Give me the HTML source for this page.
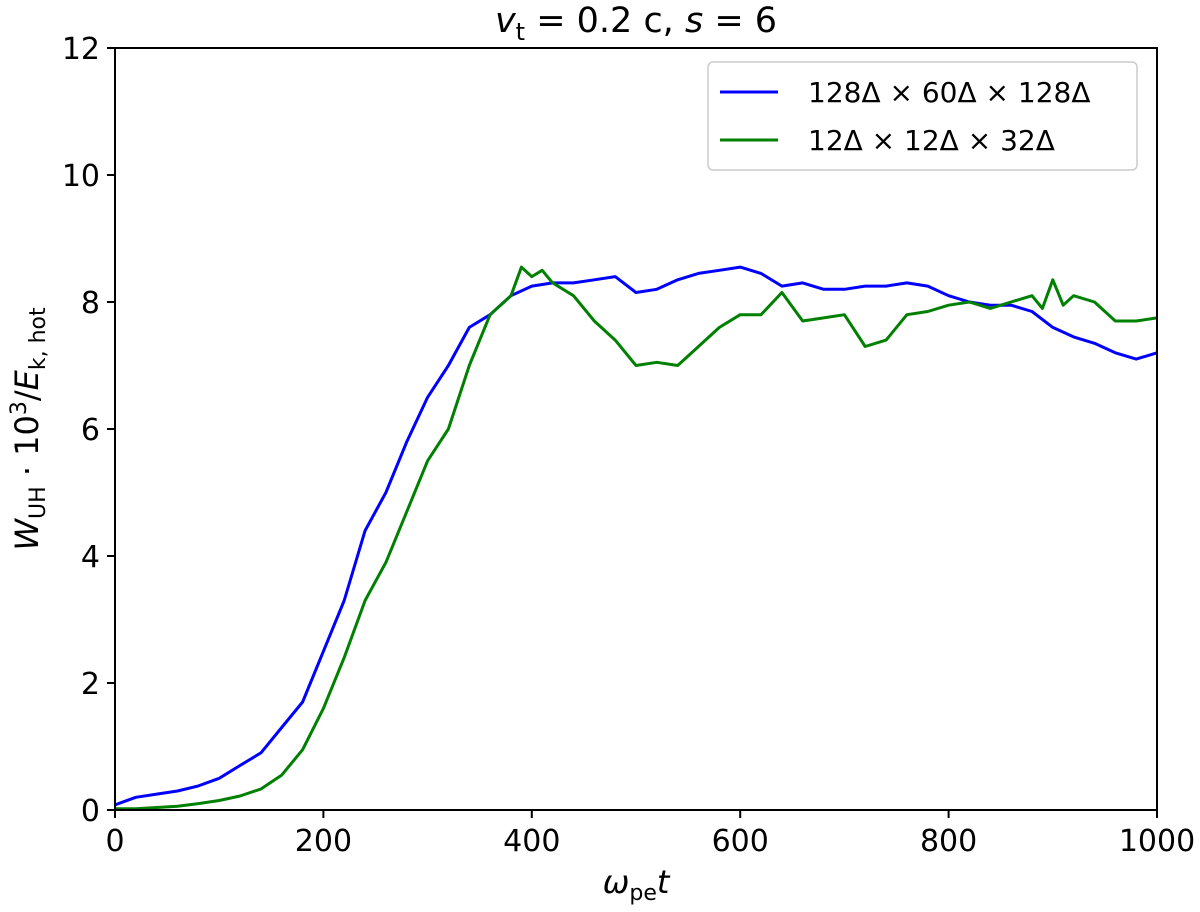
<!DOCTYPE html>
<html><head><meta charset="utf-8"><style>
body{margin:0;background:#fff;}
svg text{font-family:"DejaVu Sans","Liberation Sans",sans-serif;fill:#000;}
</style></head><body>
<svg id="chart" width="1200" height="907" viewBox="0 0 1200 907" xmlns="http://www.w3.org/2000/svg">
<text x="636" y="32" font-size="35" text-anchor="middle"><tspan font-style="italic">v</tspan><tspan font-size="24" dy="8">t</tspan><tspan dy="-8"> = 0.2 c, </tspan><tspan font-style="italic">s</tspan><tspan> = 6</tspan></text>
<g id="xticks"></g>
<g id="yticks"></g>
<path id="blue" fill="none" stroke="#0000ff" stroke-width="3" stroke-linejoin="round"/>
<path id="green" fill="none" stroke="#008000" stroke-width="3" stroke-linejoin="round"/>
<rect x="115" y="48" width="1042" height="762" fill="none" stroke="#000" stroke-width="2"/>
<g>
<rect x="708" y="62" width="429" height="108" rx="5" fill="#fff" stroke="#ccc" stroke-width="1.5"/>
<line x1="720" y1="92" x2="778" y2="92" stroke="#0000ff" stroke-width="3"/>
<text x="808" y="102" font-size="28">128Δ × 60Δ × 128Δ</text>
<line x1="720" y1="140" x2="778" y2="140" stroke="#008000" stroke-width="3"/>
<text x="808" y="150" font-size="28">12Δ × 12Δ × 32Δ</text>
</g>
<text x="636" y="893" font-size="32" text-anchor="middle"><tspan font-style="italic">ω</tspan><tspan font-size="22" dy="7">pe</tspan><tspan dy="-7" font-style="italic">t</tspan></text>
<text transform="translate(38,429) rotate(-90)" font-size="32" text-anchor="middle"><tspan font-style="italic">W</tspan><tspan font-size="22" dy="7">UH</tspan><tspan dy="-7"> · 10</tspan><tspan font-size="22" dy="-12">3</tspan><tspan dy="12">/</tspan><tspan font-style="italic">E</tspan><tspan font-size="22" dy="7">k, hot</tspan></text>
</svg>
<script>
const xTicks=[0,200,400,600,800,1000];
const yTicks=[0,2,4,6,8,10,12];
const tBlue=[0,20,40,60,80,100,120,140,160,180,200,220,240,260,280,300,320,340,360,380,400,420,440,460,480,500,520,540,560,580,600,620,640,660,680,700,720,740,760,780,800,820,840,860,880,900,920,940,960,980,1000];
const wBlue=[0.08,0.2,0.25,0.3,0.38,0.5,0.7,0.9,1.3,1.7,2.5,3.3,4.4,5.0,5.8,6.5,7.0,7.6,7.8,8.1,8.25,8.3,8.3,8.35,8.4,8.15,8.2,8.35,8.45,8.5,8.55,8.45,8.25,8.3,8.2,8.2,8.25,8.25,8.3,8.25,8.1,8.0,7.95,7.95,7.85,7.6,7.45,7.35,7.2,7.1,7.2];
const tGreen=[0,20,40,60,80,100,120,140,160,180,200,220,240,260,280,300,320,340,360,380,390,400,410,420,440,460,480,500,520,540,560,580,600,620,640,660,680,700,720,740,760,780,800,820,840,860,880,890,900,910,920,940,960,980,1000];
const wGreen=[0.02,0.02,0.04,0.06,0.1,0.15,0.22,0.33,0.55,0.95,1.6,2.4,3.3,3.9,4.7,5.5,6.0,7.0,7.8,8.1,8.55,8.4,8.5,8.3,8.1,7.7,7.4,7.0,7.05,7.0,7.3,7.6,7.8,7.8,8.15,7.7,7.75,7.8,7.3,7.4,7.8,7.85,7.95,8.0,7.9,8.0,8.1,7.9,8.35,7.95,8.1,8.0,7.7,7.7,7.75];
const X=v=>115+v/1000*1042, Y=v=>810-v/12*762;
const NS='http://www.w3.org/2000/svg';
const xg=document.getElementById('xticks'), yg=document.getElementById('yticks');
xTicks.forEach(t=>{
 const l=document.createElementNS(NS,'line');
 
 
 l.setAttribute('x1',X(t));l.setAttribute('x2',X(t));l.setAttribute('y1',810);l.setAttribute('y2',818);l.setAttribute('stroke','#000');l.setAttribute('stroke-width','2');xg.appendChild(l);
 const s=document.createElementNS(NS,'text');
 
 
 s.setAttribute('x',X(t));s.setAttribute('y',851);s.setAttribute('font-size','30');s.setAttribute('text-anchor','middle');s.textContent=t;xg.appendChild(s);
});
yTicks.forEach(t=>{
 const l=document.createElementNS(NS,'line');
 
 
 l.setAttribute('x1',107);l.setAttribute('x2',115);l.setAttribute('y1',Y(t));l.setAttribute('y2',Y(t));l.setAttribute('stroke','#000');l.setAttribute('stroke-width','2');yg.appendChild(l);
 const s=document.createElementNS(NS,'text');
 
 
 s.setAttribute('x',100);s.setAttribute('y',Y(t)+11);s.setAttribute('font-size','30');s.setAttribute('text-anchor','end');s.textContent=t;yg.appendChild(s);
});
const path=(ts,ws)=>ts.map((t,i)=>(i?'L':'M')+X(t).toFixed(1)+','+Y(ws[i]).toFixed(1)).join('');
document.getElementById('blue').setAttribute('d',path(tBlue,wBlue));
document.getElementById('green').setAttribute('d',path(tGreen,wGreen));
</script>
</body></html>
